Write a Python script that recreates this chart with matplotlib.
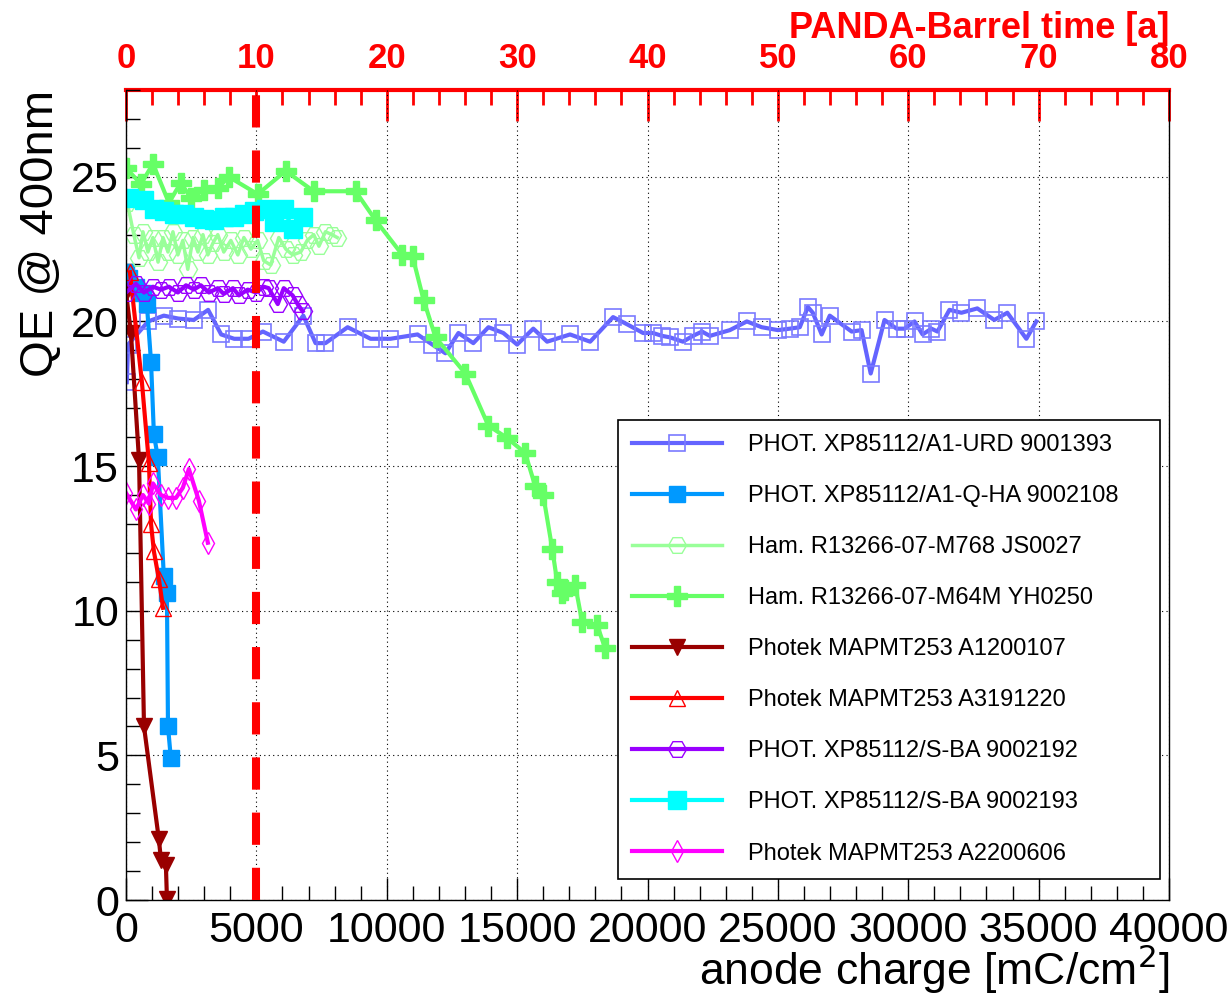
import matplotlib
matplotlib.use("Agg")
import matplotlib.pyplot as plt
from matplotlib.ticker import MultipleLocator

plt.rcParams['font.family'] = ['Liberation Sans', 'DejaVu Sans']

# anode charge [mC/cm2] and QE @ 400nm for each sensor
urd_x = [30, 80, 850, 1450, 2000, 2600, 3150, 3650, 4150, 4700, 5250, 6050, 6800, 7270, 7650,
         8500, 9380, 10140, 11180, 11750, 12250, 12750, 13320, 13900, 14470, 15000, 15620, 16150,
         17030, 17800, 18680, 19220, 19830, 20210, 20560, 20860, 21360, 21740, 22090, 22390, 23160,
         23810, 24380, 25000, 25460, 25840, 26150, 26340, 26680, 26990, 27830, 28210, 28560, 29090,
         29550, 29860, 30240, 30550, 30890, 31120, 31580, 32040, 32650, 33300, 33800, 34530, 34910]
urd_y = [17.9, 19.2, 20.0, 20.2, 20.1, 20.05, 20.4, 19.55, 19.4, 19.4, 19.65, 19.3, 20.2, 19.25, 19.25,
         19.8, 19.4, 19.4, 19.55, 19.2, 18.9, 19.6, 19.25, 19.8, 19.6, 19.2, 19.75, 19.3,
         19.55, 19.3, 20.15, 19.9, 19.6, 19.6, 19.5, 19.45, 19.3, 19.5, 19.65, 19.5, 19.7,
         20.0, 19.8, 19.7, 19.75, 19.8, 20.5, 20.3, 19.55, 20.2, 19.65, 19.7, 18.2, 20.05,
         19.75, 19.75, 20.0, 19.55, 19.75, 19.65, 20.4, 20.3, 20.45, 20.05, 20.3, 19.4, 20.0]

qha_x = [0, 115, 380, 650, 800, 960, 1070, 1220, 1450, 1570, 1610, 1720]
qha_y = [21.7, 21.5, 21.2, 21.0, 20.6, 18.6, 16.1, 15.3, 11.2, 10.6, 6.0, 4.9]

m768_x = [50, 300, 500, 650, 840, 1030, 1230, 1420, 1610, 1800, 1990, 2180, 2370, 2570, 2760,
          2950, 3140, 3330, 3520, 3750, 4020, 4290, 4520, 4790, 5050, 5280, 5550, 5860, 6130,
          6390, 6700, 6950, 7200, 7400, 7650, 7900, 8100]
m768_y = [24.1, 23.0, 22.2, 23.1, 22.4, 22.9, 22.05, 22.9, 22.4, 23.1, 22.3, 22.8, 21.8, 22.9, 22.4,
          23.0, 22.3, 22.7, 23.0, 22.4, 22.8, 22.3, 22.9, 22.5, 22.8, 22.1, 21.95, 22.9, 22.5,
          22.3, 22.4, 22.8, 23.0, 22.6, 23.1, 23.0, 22.9]

m64m_x = [0, 575, 1035, 1645, 2105, 2490, 2985, 3520, 3940, 5050, 6125, 7200, 8805, 9570, 10600,
          10990, 11410, 11870, 13015, 13895, 14620, 15310, 15695, 16000, 16345, 16535, 16730,
          16845, 17225, 17495, 18070, 18375]
m64m_y = [25.3, 24.75, 25.45, 24.1, 24.8, 24.25, 24.55, 24.6, 25.0, 24.4, 25.2, 24.5, 24.5, 23.5, 22.3,
          22.25, 20.75, 19.45, 18.2, 16.4, 15.97, 15.45, 14.3, 14.0, 12.15, 11.0, 10.6,
          10.7, 10.9, 9.6, 9.5, 8.7]

a120_x = [0, 190, 500, 690, 1260, 1340, 1530, 1570]
a120_y = [21.0, 19.6, 15.2, 6.0, 2.1, 1.4, 1.2, 0.05]

a319_x = [150, 610, 880, 960, 1070, 1260, 1420]
a319_y = [21.7, 17.9, 15.1, 13.0, 12.05, 11.1, 10.1]

sba92_x = [0, 380, 690, 1035, 1340, 1645, 1990, 2300, 2600, 2870, 3180, 3520, 3750, 4100, 4330,
           4670, 4980, 5280, 5470, 5820, 6050, 6390, 6580, 6775]
sba92_y = [21.0, 21.3, 21.0, 21.2, 21.1, 21.2, 21.0, 21.25, 21.1, 21.25, 21.0, 21.15, 20.95, 21.15, 20.9,
           21.1, 21.0, 21.2, 21.15, 20.6, 21.15, 20.9, 20.6, 20.35]

sba93_x = [115, 690, 1070, 1455, 1840, 2220, 2600, 2985, 3370, 3750, 4130, 4520, 4900, 5360, 5665,
           6050, 6390, 6775]
sba93_y = [24.25, 24.2, 23.9, 23.8, 23.7, 23.7, 23.6, 23.55, 23.5, 23.6, 23.6, 23.7, 23.8, 23.9, 23.45,
           23.9, 23.2, 23.6]

a220_x = [0, 380, 650, 880, 1035, 1340, 1610, 1915, 2180, 2410, 2795, 3140]
a220_y = [14.07, 13.5, 14.0, 13.7, 14.4, 14.0, 13.9, 13.9, 14.25, 14.9, 13.8, 12.35]

labels = ["PHOT. XP85112/A1-URD 9001393", "PHOT. XP85112/A1-Q-HA 9002108",
          "Ham. R13266-07-M768 JS0027", "Ham. R13266-07-M64M YH0250",
          "Photek MAPMT253 A1200107", "Photek MAPMT253 A3191220",
          "PHOT. XP85112/S-BA 9002192", "PHOT. XP85112/S-BA 9002193",
          "Photek MAPMT253 A2200606"]

charge_per_year = 500.0  # 10 a of PANDA barrel = 5000 mC/cm2

fig = plt.figure(figsize=(12.3, 9.97), dpi=100)
ax = fig.add_axes([126/1230, 97/997, 1043/1230, 810/997])

ax.plot(urd_x, urd_y, color='#6464ff', lw=3, marker='s', ms=11, mfc='none', mec='#7a7aff', mew=1.2,
        label=labels[0])
ax.plot(qha_x, qha_y, color='#0099ff', lw=3, marker='s', ms=11, mec='#0099ff', label=labels[1])
ax.plot(m768_x, m768_y, color='#99ff99', lw=2.5, marker='H', ms=13, mfc='none', mec='#99ff99', mew=1,
        label=labels[2])
ax.plot(m64m_x, m64m_y, color='#66ff66', lw=3, marker='P', ms=14, mec='#66ff66', label=labels[3])
ax.plot(a120_x, a120_y, color='#990000', lw=3, marker='v', ms=11, mec='#990000', label=labels[4])
ax.plot(a319_x, a319_y, color='#ff0000', lw=3, marker='^', ms=12, mfc='none', mec='#ff0000', mew=1,
        label=labels[5])
ax.plot(sba92_x, sba92_y, color='#9900ff', lw=3, marker='H', ms=13, mfc='none', mec='#9900ff', mew=1,
        label=labels[6])
ax.plot(sba93_x, sba93_y, color='#00ffff', lw=3, marker='s', ms=13, mec='#00ffff', label=labels[7])
ax.plot(a220_x, a220_y, color='#ff00ff', lw=3, marker='d', ms=11, mfc='none', mec='#ff00ff', mew=1,
        label=labels[8])

# 10 years of PANDA barrel operation
ax.plot([10*charge_per_year]*2, [0, 28.4], color='red', lw=5.8, dashes=(4, 2.85), clip_on=False,
        zorder=5)

ax.set_xlim(0, 40000)
ax.set_ylim(0, 28)
ax.xaxis.set_major_locator(MultipleLocator(5000))
ax.xaxis.set_minor_locator(MultipleLocator(1000))
ax.yaxis.set_major_locator(MultipleLocator(5))
ax.yaxis.set_minor_locator(MultipleLocator(1))
ax.tick_params(which='both', direction='in', top=False, right=False, labelsize=31, width=1)
ax.tick_params(axis='x', which='major', length=16, pad=8)
ax.tick_params(axis='x', which='minor', length=10)
ax.tick_params(axis='y', which='major', length=16, pad=5)
ax.tick_params(axis='y', which='minor', length=10)
ax.grid(True, which='major', color='black', lw=0.8, linestyle=(0, (1, 3)))
ax.set_axisbelow(True)
for s in ax.spines.values():
    s.set_linewidth(1)
ax.spines['top'].set_visible(False)

ax.set_xlabel('anode charge [mC/cm$^2$]', fontsize=32, loc='right', labelpad=-6)
ax.set_ylabel('QE @ 400nm', fontsize=34, loc='top', labelpad=6)

top = ax.secondary_xaxis('top', functions=(lambda q: q/charge_per_year, lambda t: t*charge_per_year))
top.xaxis.set_major_locator(MultipleLocator(10))
top.xaxis.set_minor_locator(MultipleLocator(2))
top.tick_params(which='both', direction='in', colors='red', width=2, labelsize=25, pad=11)
top.tick_params(which='major', length=22)
top.tick_params(which='minor', length=11)
for t in top.get_xticklabels():
    t.set_fontweight('bold')
top.spines['top'].set_color('red')
top.spines['top'].set_linewidth(3)
top.set_xlabel('PANDA-Barrel time [a]', color='red', fontsize=26, fontweight='bold', loc='right',
               labelpad=3)

leg = ax.legend(loc='upper left', bbox_to_anchor=(618/1230, 1 - 420/997 - 0.01, 542/1230, 0.01),
                bbox_transform=fig.transFigure, mode='expand', fontsize=17, frameon=True,
                fancybox=False, edgecolor='black', framealpha=1, borderpad=0.6, labelspacing=1.23,
                handlelength=3.8, handletextpad=1.1, borderaxespad=0)
leg.get_frame().set_linewidth(1.2)

fig.savefig('out.png', dpi=100)
